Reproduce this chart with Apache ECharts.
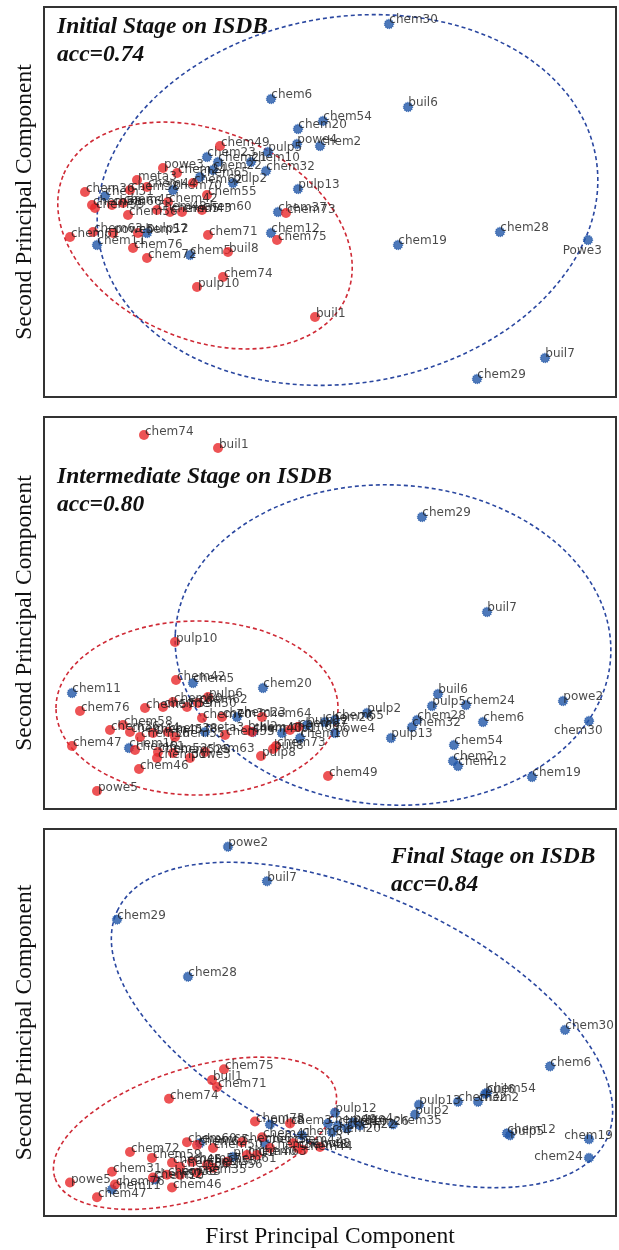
<!DOCTYPE html>
<html>
<head>
<meta charset="utf-8">
<script src="https://cdn.jsdelivr.net/npm/echarts@6/dist/echarts.min.js"></script>
<style>
html,body{margin:0;padding:0;background:#fff;}
#chart{width:619px;height:1250px;}
</style>
</head>
<body>
<div id="chart"></div>
<script>
// ---------- DATA (PC coordinates, arbitrary units) ----------
// Panel 1: Initial stage
const initialBlue = [
  [345,373,'chem30'],[227,298,'chem6'],[364,290,'buil6'],[279,276,'chem54'],[254,268,'chem20'],
  [253,253,'powe4'],[276,251,'chem2'],[224,245,'pulp5'],[207,235,'chem10'],[222,226,'chem32'],
  [163,240,'chem23'],[174,235,'chem21'],[169,227,'chem22'],[189,214,'pulp2'],[156,220,'chem65'],
  [129,207,'chem70'],[61,201,'chem31'],[254,208,'pulp13'],[234,185,'chem37'],[227,164,'chem12'],
  [354,152,'chem19'],[456,165,'chem28'],[544,157,'Powe3'],[501,39,'buil7'],[433,18,'chem29'],
  [103,164,'pulp12'],[53,152,'chem11'],[146,142,'chem5']
];
const initialRed = [
  [176,251,'chem49'],[119,229,'powe3'],[93,217,'meta3'],[133,224,'chem24'],[41,205,'chem36'],
  [86,207,'chem38'],[103,210,'chem44'],[149,214,'chem62'],[163,202,'chem55'],[48,192,'chem58'],
  [51,189,'chem59'],[68,192,'chem66'],[79,194,'chem45'],[84,182,'chem56'],[113,187,'chem48'],
  [126,185,'chem35'],[138,185,'chem43'],[158,187,'chem60'],[124,195,'chem42'],[26,160,'chem61'],
  [49,165,'chem63'],[69,164,'powe5'],[94,164,'chem57'],[89,149,'chem76'],[103,139,'chem72'],
  [184,145,'buil8'],[164,162,'chem71'],[179,120,'chem74'],[153,110,'pulp10'],[242,184,'chem73'],
  [233,157,'chem75'],[271,80,'buil1']
];
// Panel 2: Intermediate stage
const interBlue = [
  [378,292,'chem29'],[443,197,'buil7'],[394,115,'buil6'],[388,103,'pulp5'],[422,104,'chem24'],
  [373,89,'chem28'],[368,82,'chem32'],[439,87,'chem6'],[347,71,'pulp13'],[410,64,'chem54'],
  [409,48,'chem2'],[414,43,'chem12'],[488,32,'chem19'],[519,108,'powe2'],[545,88,'chem30'],
  [323,96,'pulp2'],[291,89,'chem65'],[281,87,'chem26'],[263,84,'pulp12'],[291,76,'powe4'],
  [256,71,'chem10'],[219,121,'chem20'],[149,126,'chem5'],[28,116,'chem11'],[193,92,'chem23'],
  [209,77,'chem48'],[238,76,'pulp1'],[161,77,'meta3'],[85,61,'chem16']
];
const interRed = [
  [100,374,'chem74'],[174,361,'buil1'],[131,167,'pulp10'],[132,129,'chem42'],[36,98,'chem76'],
  [101,101,'chem57'],[119,102,'chem59'],[129,107,'chem60'],[154,106,'chem62'],[164,112,'pulp6'],
  [143,102,'chem50'],[158,91,'chem70'],[178,92,'chem3'],[218,92,'chem64'],[79,84,'chem58'],
  [66,79,'chem36'],[86,77,'chem44'],[96,72,'chem56'],[109,76,'chem45'],[124,77,'chem38'],
  [131,72,'chem55'],[181,74,'chem35'],[203,79,'buil2'],[208,77,'chem40'],[246,79,'chem66'],
  [254,82,'chem67'],[28,63,'chem47'],[91,59,'chem61'],[114,57,'chem52'],[129,56,'chem525'],
  [146,51,'powe3'],[161,57,'chem63'],[113,51,'chem31'],[95,40,'chem46'],[217,53,'pulp8'],
  [229,60,'buil8'],[232,63,'chem73'],[284,33,'chem49'],[53,18,'powe5']
];
// Panel 3: Final stage
const finalBlue = [
  [184,375,'powe2'],[223,340,'buil7'],[73,301,'chem29'],[144,243,'chem28'],[521,189,'chem30'],
  [506,152,'chem6'],[443,125,'chem54'],[441,124,'buil6'],[434,116,'chem2'],[414,116,'chem32'],
  [375,113,'pulp13'],[371,103,'pulp2'],[349,93,'chem35'],[316,92,'chem26'],[463,84,'chem12'],
  [466,82,'pulp5'],[545,78,'chem19'],[545,59,'chem24'],[291,105,'pulp12'],[284,94,'chem49'],
  [294,92,'chem10'],[288,85,'chem20'],[303,89,'chem22'],[309,95,'powe4'],[226,93,'pulp8'],
  [258,82,'chem64'],[221,74,'chem5'],[189,60,'pulp11'],[156,74,'chem65'],[68,27,'chem11'],
  [111,37,'chem16']
];
const finalRed = [
  [180,149,'chem75'],[168,138,'buil1'],[173,131,'chem71'],[125,119,'chem74'],[211,96,'chem73'],
  [246,94,'chem3'],[276,70,'buil8'],[254,69,'chem48'],[86,65,'chem72'],[108,59,'chem59'],
  [143,75,'chem60'],[153,72,'chem62'],[169,69,'chem50'],[198,75,'chem66'],[218,80,'chem41'],
  [226,69,'chem36'],[213,62,'chem63'],[249,74,'chem42'],[259,67,'chem44'],[68,45,'chem31'],
  [128,54,'chem45'],[136,50,'chem58'],[148,55,'chem57'],[163,52,'chem55'],[169,49,'chem56'],
  [183,55,'chem61'],[203,62,'chem40'],[109,39,'chem52'],[123,42,'chem38'],[136,42,'powe3'],
  [153,44,'chem35'],[128,29,'chem46'],[26,34,'powe5'],[71,32,'chem76'],[53,19,'chem47']
];
// Cluster ellipses: [centerX, centerY, semiAxisX, semiAxisY, angleDeg(ccw)]
const initialEllipses = { red: [161,161.5,154,104,-23.5], blue: [303.5,197,252,183,9.7] };
const interEllipses   = { red: [153,101,141,87,0],        blue: [349,164,218,160,-3] };
const finalEllipses   = { red: [151,84,147,66,17.5],      blue: [318,194,270,130,-25] };
// Titles
const panelTitles = ['Initial Stage on ISDB\nacc=0.74','Intermediate Stage on ISDB\nacc=0.80','Final Stage on ISDB\nacc=0.84'];
const yName = 'Second Principal Component';
const xName = 'First Principal Component';
// Axis extents
const xMax = 572;
const yMaxs = [390, 392, 393];

// ---------- STYLE ----------
const RED = '#e8282a', BLUE = '#2156a8';
const RED_LINE = '#cf2a36', BLUE_LINE = '#2a47a0';
const SERIF = '"Liberation Serif", "Times New Roman", serif';
const SANS = '"DejaVu Sans", sans-serif';
const gridTops = [7, 417, 829];
const labelSpecial = { '0|Powe3': {position:[-0.5,16.5], align:'center'},
                       '1|chem30': {position:[-5.5,15.5], align:'center'},
                       '2|chem24': {position:[-1,4.5], align:'right'},
                       '2|chem19': {position:[29,1.5], align:'right'} };

function pointSeries(arr, idx, color, isBlue) {
  return {
    type: 'scatter', xAxisIndex: idx, yAxisIndex: idx,
    symbol: 'circle', symbolSize: isBlue ? 9 : 10,
    itemStyle: isBlue ? {color: color, borderColor: color, borderWidth: 1.4, borderType: [1,1]} : {color: color},
    z: isBlue ? 3 : 4,
    silent: true,
    data: arr.map(d => {
      const key = idx + '|' + d[2];
      const item = {name: d[2], value: [d[0], d[1]]};
      if (labelSpecial[key]) {
        item.label = {position: labelSpecial[key].position, align: labelSpecial[key].align};
      }
      return item;
    }),
    label: {
      show: true, formatter: p => p.name,
      position: [isBlue ? 5.5 : 6, isBlue ? 1.5 : 2],
      align: 'left', verticalAlign: 'middle',
      fontFamily: SANS, fontSize: 12, color: '#1a1a1a'
    },
    labelLayout: {hideOverlap: false}
  };
}

function ellipseSeries(params, idx, color) {
  return {
    type: 'custom', xAxisIndex: idx, yAxisIndex: idx, silent: true, z: 2,
    data: [params],
    renderItem: function (p, api) {
      const c = api.coord([api.value(0), api.value(1)]);
      const s = api.size([api.value(2), api.value(3)]);
      return {
        type: 'ellipse', x: c[0], y: c[1], rotation: api.value(4) * Math.PI / 180,
        shape: {cx: 0, cy: 0, rx: s[0], ry: s[1]},
        style: {fill: 'none', stroke: color, lineWidth: 1.6, lineDash: [4, 3]}
      };
    }
  };
}

const grids = [], xAxes = [], yAxes = [], series = [], titles = [];
for (let i = 0; i < 3; i++) {
  grids.push({left: 44, width: 572, top: gridTops[i], height: yMaxs[i], show: true,
              borderColor: '#333', borderWidth: 2, backgroundColor: '#fff', containLabel: false});
  xAxes.push({type: 'value', gridIndex: i, min: 0, max: xMax,
              axisLine: {show: false}, axisTick: {show: false}, axisLabel: {show: false}, splitLine: {show: false},
              name: i === 2 ? xName : '', nameLocation: 'middle', nameGap: 9,
              nameTextStyle: {fontFamily: SERIF, fontSize: 23.5, color: '#111'}});
  yAxes.push({type: 'value', gridIndex: i, min: 0, max: yMaxs[i],
              axisLine: {show: false}, axisTick: {show: false}, axisLabel: {show: false}, splitLine: {show: false},
              name: yName, nameLocation: 'middle', nameGap: 7,
              nameTextStyle: {fontFamily: SERIF, fontSize: 23.5, color: '#111'}});
}
const blues = [initialBlue, interBlue, finalBlue];
const reds = [initialRed, interRed, finalRed];
const ells = [initialEllipses, interEllipses, finalEllipses];
for (let i = 0; i < 3; i++) {
  series.push(ellipseSeries(ells[i].red, i, RED_LINE));
  series.push(ellipseSeries(ells[i].blue, i, BLUE_LINE));
  series.push(pointSeries(blues[i], i, BLUE, true));
  series.push(pointSeries(reds[i], i, RED, false));
}
const titlePos = [{left: 57, top: 13}, {left: 57, top: 463}, {left: 391, top: 843}];
for (let i = 0; i < 3; i++) {
  titles.push({text: panelTitles[i], left: titlePos[i].left, top: titlePos[i].top, padding: 0,
    textStyle: {fontFamily: SERIF, fontStyle: 'italic', fontWeight: 'bold', fontSize: 23.5, lineHeight: 28, color: '#111'}});
}

const chart = echarts.init(document.getElementById('chart'), null, {renderer: 'canvas'});
chart.setOption({
  animation: false,
  backgroundColor: '#fff',
  title: titles,
  grid: grids, xAxis: xAxes, yAxis: yAxes, series: series
});
</script>
</body>
</html>
